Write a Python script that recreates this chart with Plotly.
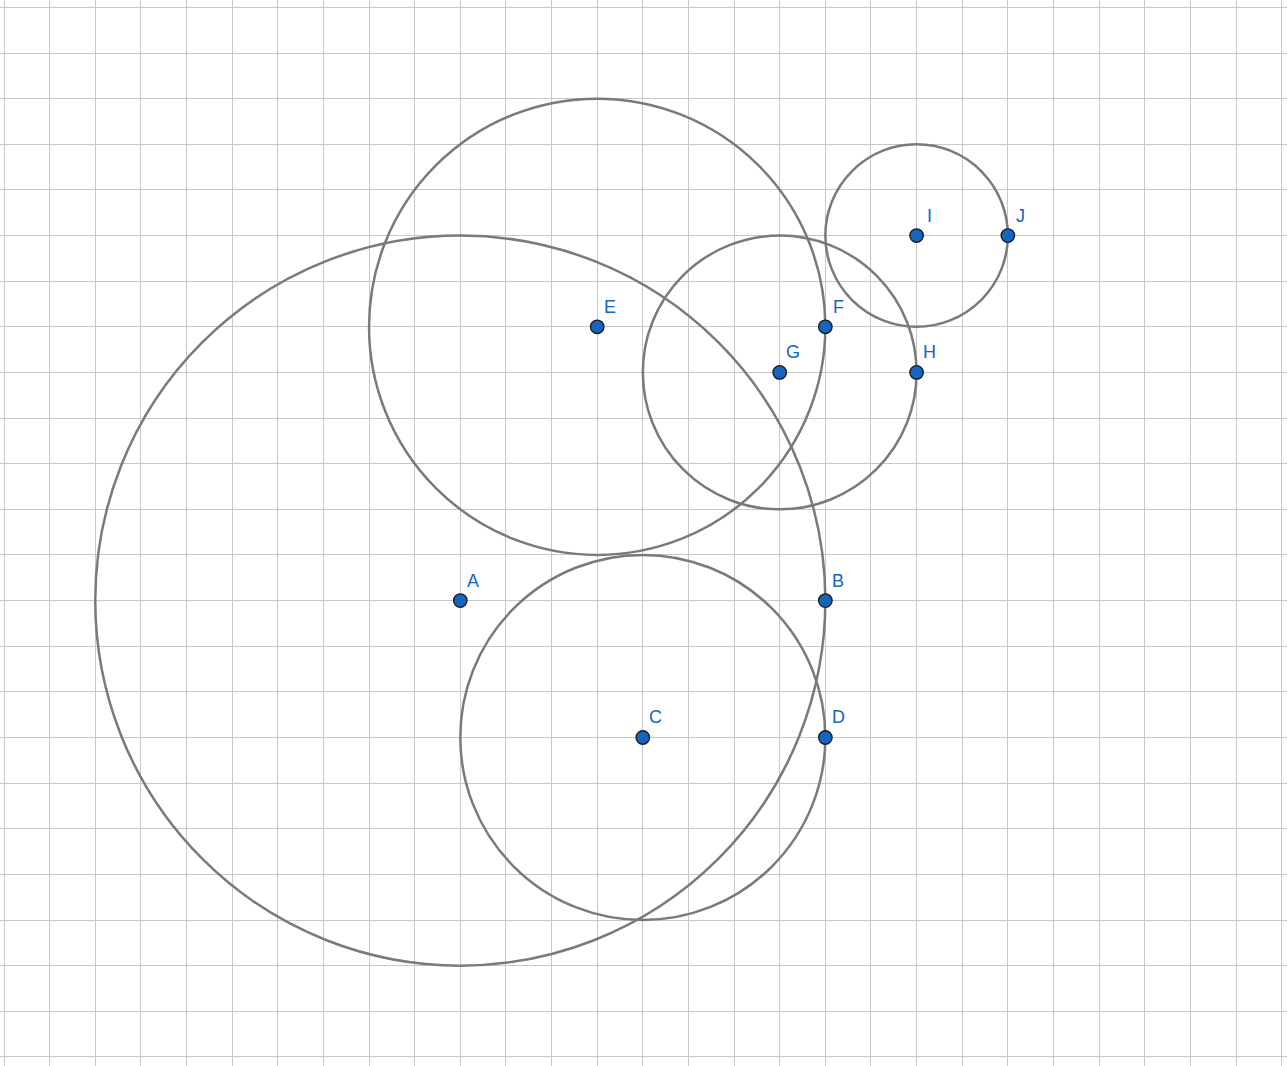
import plotly.graph_objects as go

# Points (grid units; y measured downward from the top grid line, negated for plotting)
point_names = ["A", "B", "C", "D", "E", "F", "G", "H", "I", "J"]
point_x = [10, 18, 14, 18, 13, 18, 17, 20, 20, 22]
point_y = [-13, -13, -16, -16, -7, -7, -8, -8, -5, -5]

# Circles: centre name and radius
circle_centers = ["A", "C", "E", "G", "I"]
circle_radii = [8, 4, 5, 3, 2]

W, H = 1287, 1066
unit = 45.63
x_off, y_off = 4.0, 7.4

fig = go.Figure()

lookup = {n: (x, y) for n, x, y in zip(point_names, point_x, point_y)}
for c, r in zip(circle_centers, circle_radii):
    cx, cy = lookup[c]
    fig.add_shape(type="circle", xref="x", yref="y",
                  x0=cx - r, x1=cx + r, y0=cy - r, y1=cy + r,
                  line=dict(color="#7a7a7a", width=2.5), layer="between")

fig.add_trace(go.Scatter(
    x=point_x, y=point_y, mode="markers",
    marker=dict(size=13.5, color="#1565c0", line=dict(color="#1a1a1a", width=1.3)),
    hoverinfo="skip", showlegend=False, cliponaxis=False))

for n, x, y in zip(point_names, point_x, point_y):
    fig.add_annotation(x=x, y=y, text=n, showarrow=False, xshift=13, yshift=20,
                       font=dict(family="Liberation Sans, Arial, sans-serif", size=18, color="#1565c0"))

x_range = [-x_off / unit, (W - x_off) / unit]
y_range = [-(H - y_off) / unit, y_off / unit]

axis_common = dict(showticklabels=False, zeroline=False, showline=False, ticks="",
                   dtick=1, tick0=0, gridcolor="#c8c8c8", gridwidth=1.2, fixedrange=True)
fig.update_xaxes(range=x_range, **axis_common)
fig.update_yaxes(range=y_range, **axis_common)

fig.update_layout(width=W, height=H, margin=dict(l=0, r=0, t=0, b=0, pad=0),
                  plot_bgcolor="white", paper_bgcolor="white")

fig.write_html("out.html", config={"displayModeBar": False},
               post_script="document.body.style.margin='0';document.body.style.overflow='hidden';")
